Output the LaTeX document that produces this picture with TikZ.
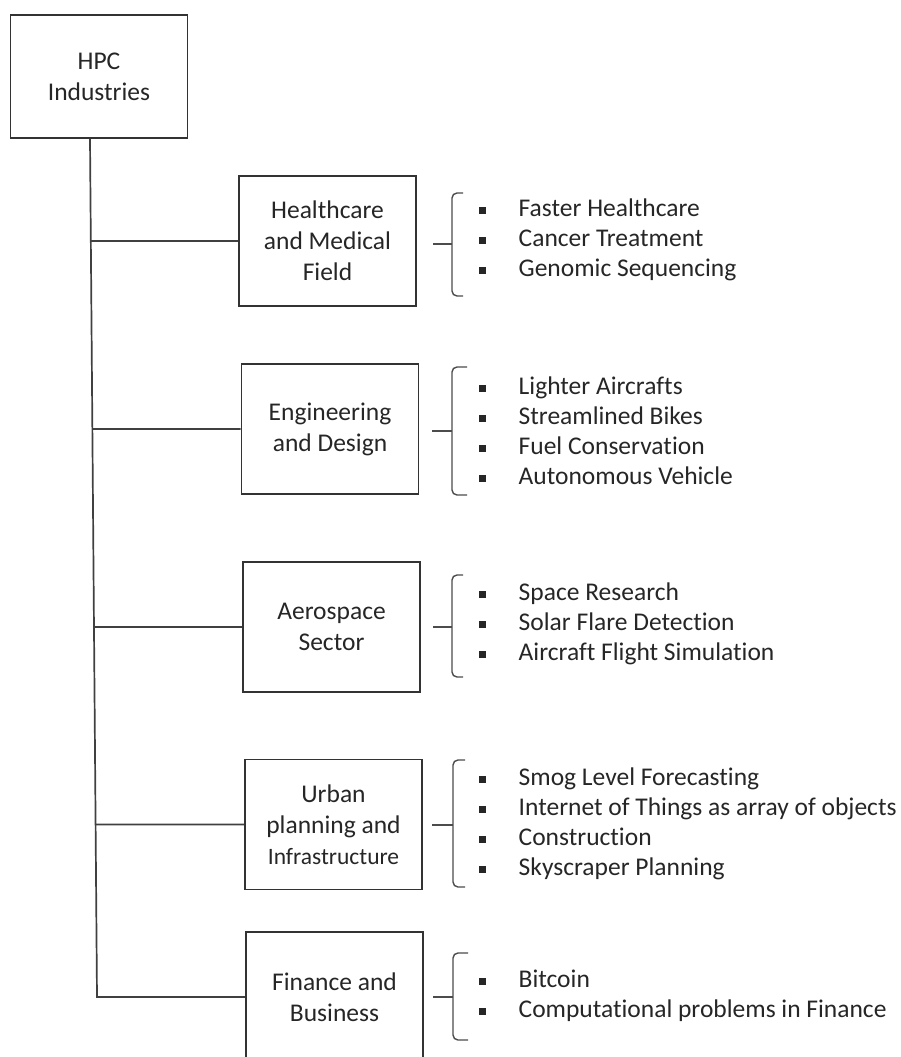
\documentclass[tikz,border=0pt]{standalone}
\usepackage{fontspec}
\setmainfont{Carlito}[Ligatures=NoCommon]
\usepackage{tikz}

\newcommand{\sqbullet}{\strut\rule[2pt]{7.5pt}{7.5pt}\hspace{32.5pt}}

\begin{document}
\begin{tikzpicture}[x=1pt, y=-1pt,
    box/.style={draw=black!80, line width=1.7pt, minimum width=177pt, minimum height=130pt,
        inner sep=0pt, align=center, font=\fontsize{25.5}{31}\selectfont, text=black!85},
    items/.style={anchor=west, inner sep=0pt, align=left, font=\fontsize{25.5}{30}\selectfont, text=black!85},
    link/.style={draw=black!75, line width=1.7pt},
    curly/.style={draw=black!70, line width=1.4pt, rounded corners=5pt}]
    \useasboundingbox (0,0) rectangle (901,1057);
    \clip (0,0) rectangle (901,1057);

    % boxes
    \node[box, minimum height=123pt] (hpc) at (99,76.5) {HPC\\Industries};
    \node[box] (health) at (327.5,241) {Healthcare\\and Medical\\Field};
    \node[box] (eng) at (330,429) {Engineering\\and Design};
    \node[box] (aero) at (331.5,627) {Aerospace\\Sector};
    \node[box] (urban) at (333.5,824.5) {Urban\\planning and\\{\fontsize{23.5}{31}\selectfont Infrastructure}};
    \node[box] (fin) at (334.5,997) {Finance and\\Business};

    % trunk and branches
    \coordinate (top) at ([xshift=-9pt]hpc.south);
    \coordinate (bot) at (97,997);
    \draw[link] (top) -- (bot) -- (fin.west);
    \draw[link] (intersection of top--bot and health.west--health.east) -- (health.west);
    \draw[link] (intersection of top--bot and eng.west--eng.east) -- (eng.west);
    \draw[link] (intersection of top--bot and aero.west--aero.east) -- (aero.west);
    \draw[link] (intersection of top--bot and urban.west--urban.east) -- (urban.west);

    % braces
    \draw[curly] (463,193) -- (452,193) -- (452,296) -- (463,296);
    \draw[curly] (433,244) -- (452,244);
    \draw[curly] (467,367) -- (452,367) -- (452,495) -- (467,495);
    \draw[curly] (432,431) -- (452,431);
    \draw[curly] (463,575) -- (452,575) -- (452,677) -- (463,677);
    \draw[curly] (433,627) -- (452,627);
    \draw[curly] (465,760) -- (453,760) -- (453,887) -- (465,887);
    \draw[curly] (432,825) -- (453,825);
    \draw[curly] (468,953) -- (453,953) -- (453,1040) -- (468,1040);
    \draw[curly] (433,997) -- (453,997);

    % bullet lists
    \node[items] (healthlist) at (478.5,240) {\sqbullet Faster Healthcare\\\sqbullet Cancer Treatment\\\sqbullet Genomic Sequencing};
    \node[items] (englist) at (478.5,433) {\sqbullet Lighter Aircrafts\\\sqbullet Streamlined Bikes\\\sqbullet Fuel Conservation\\\sqbullet Autonomous Vehicle};
    \node[items] (aerolist) at (478.5,624) {\sqbullet Space Research\\\sqbullet Solar Flare Detection\\\sqbullet Aircraft Flight Simulation};
    \node[items] (urbanlist) at (478.5,824) {\sqbullet Smog Level Forecasting\\\sqbullet Internet of Things as array of objects\\\sqbullet Construction\\\sqbullet Skyscraper Planning};
    \node[items] (finlist) at (478.5,996) {\sqbullet Bitcoin\\\sqbullet Computational problems in Finance};
\end{tikzpicture}
\end{document}
